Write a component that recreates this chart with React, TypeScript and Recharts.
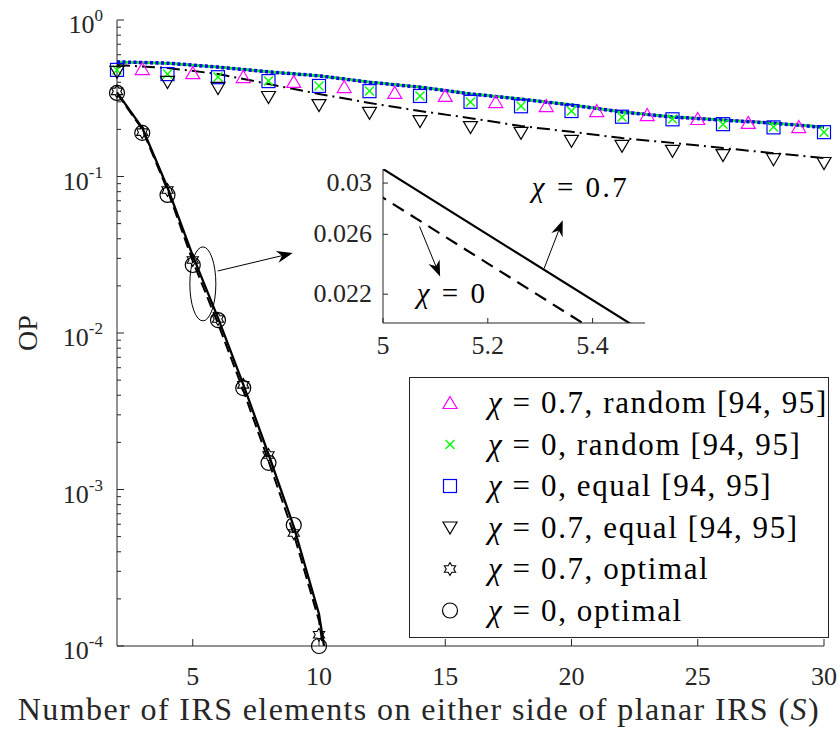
import React from 'react'
import {
  ComposedChart,
  Line,
  Scatter,
  XAxis,
  YAxis,
  Legend,
  ReferenceLine,
  ReferenceDot,
  CartesianGrid,
} from 'recharts'

const FONT = "'Liberation Serif', 'Times New Roman', serif"
const INK = '#262626'
const MAGENTA = '#ff00ff'
const GREEN = '#00ff00'
const BLUE = '#0000ff'

// x values (S)
const evenS = [2, 4, 6, 8, 10, 12, 14, 16, 18, 20, 22, 24, 26, 28, 30]
const oddS = [3, 5, 7, 9, 11, 13, 15, 17, 19, 21, 23, 25, 27, 29]
const optS = [2, 3, 4, 5, 6, 7, 8, 9, 10]
const optLineS = [2, 3, 4, 5, 6, 7, 8, 9, 10, 11]

// analytical curves
const randChi07Line = [0.54, 0.53, 0.5, 0.466, 0.44, 0.4, 0.373, 0.337, 0.313, 0.286, 0.259, 0.24, 0.23, 0.22, 0.207]
const randChi0Line = [0.54, 0.53, 0.5, 0.467, 0.44, 0.401, 0.373, 0.338, 0.313, 0.287, 0.258, 0.241, 0.23, 0.219, 0.207]
const eqChi0Line = [0.54, 0.53, 0.5, 0.466, 0.44, 0.4, 0.372, 0.337, 0.312, 0.286, 0.258, 0.24, 0.229, 0.219, 0.206]
const eqChi07Line = [0.516, 0.494, 0.452, 0.39, 0.337, 0.295, 0.262, 0.236, 0.21, 0.193, 0.176, 0.164, 0.152, 0.141, 0.131]
const optChi07Line = [0.345, 0.205, 0.085, 0.0312, 0.0125, 0.0047, 0.00168, 0.00058, 0.00016, 0.000015]
const optChi0Line = [0.34, 0.2, 0.082, 0.0288, 0.0115, 0.0043, 0.00152, 0.00052, 0.000145, 0.000013]

// simulation markers
const randChi07Sim = [0.486, 0.458, 0.432, 0.402, 0.373, 0.342, 0.327, 0.299, 0.282, 0.262, 0.247, 0.233, 0.22, 0.207]
const randChi0Sim = [0.48, 0.452, 0.432, 0.408, 0.379, 0.352, 0.327, 0.299, 0.282, 0.262, 0.24, 0.233, 0.216, 0.207, 0.192]
const eqChi0Sim = [0.48, 0.451, 0.431, 0.407, 0.379, 0.351, 0.327, 0.3, 0.281, 0.262, 0.241, 0.232, 0.216, 0.206, 0.192]
const eqChi07Sim = [0.466, 0.402, 0.368, 0.322, 0.286, 0.255, 0.226, 0.207, 0.19, 0.169, 0.157, 0.146, 0.137, 0.129, 0.122]
const optChi07Sim = [0.35, 0.192, 0.082, 0.0293, 0.0123, 0.00466, 0.00166, 0.000527, 0.000118]
const optChi0Sim = [0.342, 0.19, 0.0762, 0.0272, 0.0121, 0.00445, 0.00148, 0.000593, 0.0001]

// ticks
const xTicks = [5, 10, 15, 20, 25, 30]
const yDecades = [1e-4, 1e-3, 1e-2, 1e-1, 1]
const insetXTicks = [5, 5.2, 5.4]
const insetYTicks = [0.022, 0.026, 0.03]

const legendLabels = [
  '= 0.7, random [94, 95]',
  '= 0, random [94, 95]',
  '= 0, equal [94, 95]',
  '= 0.7, equal [94, 95]',
  '= 0.7, optimal',
  '= 0, optimal',
]

const zip = (xs: number[], ys: number[]) => xs.map((S, i) => ({ S, v: ys[i] }))

const yTicksAll: number[] = []
yDecades.forEach((d, i) => {
  yTicksAll.push(d)
  if (i < yDecades.length - 1) for (let k = 2; k < 10; k++) yTicksAll.push(d * k)
})

const isMajor = (v: number) => {
  const l = Math.log10(v)
  return Math.abs(l - Math.round(l)) < 1e-6
}

const txt = (size: number, extra: any = {}) => ({ fontFamily: FONT, fontSize: size, ...extra })

// ---------- markers ----------
const TriUp = ({ cx, cy }: any) => (
  <polygon points={`${cx},${cy - 6.5} ${cx + 7},${cy + 5.5} ${cx - 7},${cy + 5.5}`} fill="none" stroke={MAGENTA} strokeWidth={1.2} />
)
const Cross = ({ cx, cy }: any) => (
  <g stroke={GREEN} strokeWidth={1.4}>
    <line x1={cx - 4.5} y1={cy - 4.5} x2={cx + 4.5} y2={cy + 4.5} />
    <line x1={cx - 4.5} y1={cy + 4.5} x2={cx + 4.5} y2={cy - 4.5} />
  </g>
)
const Square = ({ cx, cy }: any) => (
  <rect x={cx - 6.5} y={cy - 6.5} width={13} height={13} fill="none" stroke={BLUE} strokeWidth={1.2} />
)
const TriDown = ({ cx, cy }: any) => (
  <polygon points={`${cx - 7},${cy - 5.5} ${cx + 7},${cy - 5.5} ${cx},${cy + 6.5}`} fill="none" stroke="#000" strokeWidth={1.2} />
)
const Hexagram = ({ cx, cy }: any) => {
  const R = 6.5
  const r = R / Math.sqrt(3)
  const pts: string[] = []
  for (let i = 0; i < 12; i++) {
    const rad = i % 2 === 0 ? R : r
    const a = -Math.PI / 2 + (i * Math.PI) / 6
    pts.push(`${cx + rad * Math.cos(a)},${cy + rad * Math.sin(a)}`)
  }
  return <polygon points={pts.join(' ')} fill="none" stroke="#000" strokeWidth={1.1} />
}
const Circle = ({ cx, cy }: any) => <circle cx={cx} cy={cy} r={7.5} fill="none" stroke="#000" strokeWidth={1.2} />

const legendMarkers = [TriUp, Cross, Square, TriDown, Hexagram, Circle]

// ---------- ticks ----------
const LeftTick = ({ x, y, payload }: any) => {
  const major = isMajor(payload.value)
  const exp = Math.round(Math.log10(payload.value))
  return (
    <g>
      <line x1={x} x2={x + (major ? 7 : 4)} y1={y} y2={y} stroke={INK} />
      {major && (
        <text x={x - 14} y={y + 13} textAnchor="end" style={txt(26)} fill={INK}>
          10<tspan dy={-12} style={txt(17)}>{String(exp)}</tspan>
        </text>
      )}
    </g>
  )
}
const RightTick = ({ x, y, payload }: any) => (
  <line x1={x} x2={x - (isMajor(payload.value) ? 7 : 4)} y1={y} y2={y} stroke={INK} />
)
const BottomTick = ({ x, y, payload }: any) => (
  <g>
    <line x1={x} x2={x} y1={y} y2={y - 7} stroke={INK} />
    <text x={x} y={y + 39} textAnchor="middle" style={txt(26)} fill={INK}>
      {payload.value}
    </text>
  </g>
)
const TopTick = ({ x, y }: any) => <line x1={x} x2={x} y1={y} y2={y + 7} stroke={INK} />

const InsetLeftTick = ({ x, y, payload }: any) => (
  <g>
    <line x1={x} x2={x + 5} y1={y} y2={y} stroke={INK} />
    <text x={x - 11} y={y + 8} textAnchor="end" style={txt(26)} fill={INK}>
      {payload.value}
    </text>
  </g>
)
const InsetBottomTick = ({ x, y, payload }: any) => (
  <g>
    <line x1={x} x2={x} y1={y} y2={y - 5} stroke={INK} />
    <text x={x} y={y + 31} textAnchor="middle" style={txt(26)} fill={INK}>
      {payload.value}
    </text>
  </g>
)
const InsetRightTick = ({ x, y }: any) => <line x1={x} x2={x - 5} y1={y} y2={y} stroke={INK} />
const InsetTopTick = ({ x, y }: any) => <line x1={x} x2={x} y1={y} y2={y + 5} stroke={INK} />

// ---------- annotations ----------
const Arrow = ({ x1, y1, x2, y2 }: any) => {
  const ang = Math.atan2(y2 - y1, x2 - x1)
  const c = Math.cos(ang)
  const s = Math.sin(ang)
  const L = 16
  const W = 6
  const N = 11
  const p = (d: number, w: number) => `${x2 - d * c - w * s},${y2 - d * s + w * c}`
  return (
    <g>
      <line x1={x1} y1={y1} x2={x2 - N * c} y2={y2 - N * s} stroke="#000" strokeWidth={1} />
      <polygon points={`${x2},${y2} ${p(L, W)} ${p(N, 0)} ${p(L, -W)}`} fill="#000" />
    </g>
  )
}

const ChiText = (value: string) => ({ cx, cy }: any) => (
  <text x={cx} y={cy + 10} textAnchor="middle" style={txt(29, { letterSpacing: 2.5 })} fill="#000">
    <tspan style={{ fontStyle: 'italic' }}>χ</tspan> = {value}
  </text>
)

const Ellipse = ({ cx, cy }: any) => <ellipse cx={cx} cy={cy} rx={13} ry={37} fill="none" stroke="#000" strokeWidth={1} />

const LegendBox = () => (
  <svg width={420} height={261}>
    <rect x={0.5} y={0.5} width={419} height={260} fill="#fff" stroke={INK} strokeWidth={1} />
    {legendLabels.map((label, i) => {
      const M = legendMarkers[i]
      const cy = 26 + i * 41.5
      return (
        <g key={i}>
          <M cx={41} cy={cy} />
          <text x={79} y={cy + 10} style={txt(31, { letterSpacing: 1.6 })} fill="#000">
            <tspan style={{ fontStyle: 'italic' }}>χ</tspan> {label}
          </text>
        </g>
      )
    })}
  </svg>
)

const XLabel = ({ viewBox }: any) => (
  <text x={viewBox.x + viewBox.width - 4} y={viewBox.y + 74} textAnchor="end" style={txt(32, { letterSpacing: 1.4 })} fill={INK}>
    Number of IRS elements on either side of planar IRS (<tspan style={{ fontStyle: 'italic' }}>S</tspan>)
  </text>
)
const YLabel = () => (
  <text x={27} y={333} transform="rotate(-90, 27, 333)" textAnchor="middle" dominantBaseline="central" style={txt(28)} fill={INK}>
    OP
  </text>
)

function Inset() {
  return (
    <div style={{ position: 'absolute', left: 300, top: 150 }}>
      <ComposedChart width={360} height={210} margin={{ top: 19, right: 15, bottom: 7, left: 0 }}>
        <CartesianGrid horizontal={false} vertical={false} fill="#fff" />
        <XAxis dataKey="S" type="number" domain={[5, 5.5]} allowDataOverflow ticks={insetXTicks} interval={0} tickSize={0} tickMargin={0} height={30} tick={InsetBottomTick} tickLine={false} stroke={INK} />
        <XAxis xAxisId="top" orientation="top" type="number" domain={[5, 5.5]} allowDataOverflow ticks={insetXTicks} interval={0} tickSize={0} tickMargin={0} height={0} tick={InsetTopTick} tickLine={false} stroke={INK} />
        <YAxis dataKey="v" type="number" scale="log" domain={[0.0203, 0.0312]} allowDataOverflow ticks={insetYTicks} interval={0} tickSize={0} tickMargin={0} width={83} tick={InsetLeftTick} tickLine={false} stroke={INK} />
        <YAxis yAxisId="right" orientation="right" type="number" scale="log" domain={[0.0203, 0.0312]} allowDataOverflow ticks={insetYTicks} interval={0} tickSize={0} tickMargin={0} width={0} tick={InsetRightTick} tickLine={false} stroke={INK} />
        <Line data={zip(optLineS, optChi07Line)} dataKey="v" stroke="#000" strokeWidth={2.2} dot={false} isAnimationActive={false} />
        <Line data={zip(optLineS, optChi0Line)} dataKey="v" stroke="#000" strokeWidth={2.2} strokeDasharray="13 8" dot={false} isAnimationActive={false} />
        <ReferenceLine segment={[{ x: 5.3075, y: 0.02364 }, { x: 5.343, y: 0.02705 }]} shape={Arrow} />
        <ReferenceLine segment={[{ x: 5.0698, y: 0.02658 }, { x: 5.109, y: 0.02311 }]} shape={Arrow} />
        <ReferenceDot x={5.377} y={0.0297} shape={ChiText('0.7')} />
        <ReferenceDot x={5.132} y={0.0221} shape={ChiText('0')} />
      </ComposedChart>
    </div>
  )
}

export default function App() {
  return (
    <div style={{ position: 'absolute', left: 0, top: 0, width: 840, height: 731, background: '#fff' }}>
      <ComposedChart width={840} height={731} margin={{ top: 20, right: 16, bottom: 0, left: 0 }}>
        <XAxis dataKey="S" type="number" domain={[2, 30]} ticks={xTicks} interval={0} tickSize={0} tickMargin={0} height={85} tick={BottomTick} tickLine={false} stroke={INK} label={XLabel} />
        <XAxis xAxisId="top" orientation="top" type="number" domain={[2, 30]} allowDataOverflow ticks={xTicks} interval={0} tickSize={0} tickMargin={0} height={0} tick={TopTick} tickLine={false} stroke={INK} />
        <YAxis dataKey="v" type="number" scale="log" domain={[1e-4, 1]} ticks={yTicksAll} interval={0} tickSize={0} tickMargin={0} width={117} tick={LeftTick} tickLine={false} stroke={INK} label={YLabel} />
        <YAxis yAxisId="right" orientation="right" type="number" scale="log" domain={[1e-4, 1]} allowDataOverflow ticks={yTicksAll} interval={0} tickSize={0} tickMargin={0} width={0} tick={RightTick} tickLine={false} stroke={INK} />
        <YAxis yAxisId="clip" hide type="number" scale="log" domain={[1e-4, 1]} allowDataOverflow />

        <Line yAxisId="clip" data={zip(evenS, randChi07Line)} dataKey="v" stroke={MAGENTA} strokeWidth={2.5} dot={false} isAnimationActive={false} />
        <Line yAxisId="clip" data={zip(evenS, randChi0Line)} dataKey="v" stroke={GREEN} strokeWidth={2.5} dot={false} isAnimationActive={false} />
        <Line yAxisId="clip" data={zip(evenS, eqChi0Line)} dataKey="v" stroke={BLUE} strokeWidth={3.5} strokeDasharray="3 2.5" dot={false} isAnimationActive={false} />
        <Line yAxisId="clip" data={zip(evenS, eqChi07Line)} dataKey="v" stroke="#000" strokeWidth={2} strokeDasharray="13 5 2 5" dot={false} isAnimationActive={false} />
        <Line yAxisId="clip" data={zip(optLineS, optChi07Line)} dataKey="v" stroke="#000" strokeWidth={2.3} dot={false} isAnimationActive={false} />
        <Line yAxisId="clip" data={zip(optLineS, optChi0Line)} dataKey="v" stroke="#000" strokeWidth={2} strokeDasharray="11 5" dot={false} isAnimationActive={false} />

        <Scatter data={zip(oddS, randChi07Sim)} dataKey="v" shape={TriUp} isAnimationActive={false} />
        <Scatter data={zip(evenS, eqChi0Sim)} dataKey="v" shape={Square} isAnimationActive={false} />
        <Scatter data={zip(evenS, randChi0Sim)} dataKey="v" shape={Cross} isAnimationActive={false} />
        <Scatter data={zip(evenS, eqChi07Sim)} dataKey="v" shape={TriDown} isAnimationActive={false} />
        <Scatter data={zip(optS, optChi07Sim)} dataKey="v" shape={Hexagram} isAnimationActive={false} />
        <Scatter data={zip(optS, optChi0Sim)} dataKey="v" shape={Circle} isAnimationActive={false} />

        <ReferenceDot x={5.4} y={0.0206} shape={Ellipse} />
        <ReferenceLine segment={[{ x: 5.99, y: 0.0249 }, { x: 8.96, y: 0.0324 }]} shape={Arrow} />

        <Legend
          layout="vertical"
          align="center"
          verticalAlign="middle"
          wrapperStyle={{ position: 'absolute', left: 409, top: 377, width: 420, height: 261 }}
          content={() => <LegendBox />}
        />
      </ComposedChart>
      <Inset />
    </div>
  )
}
